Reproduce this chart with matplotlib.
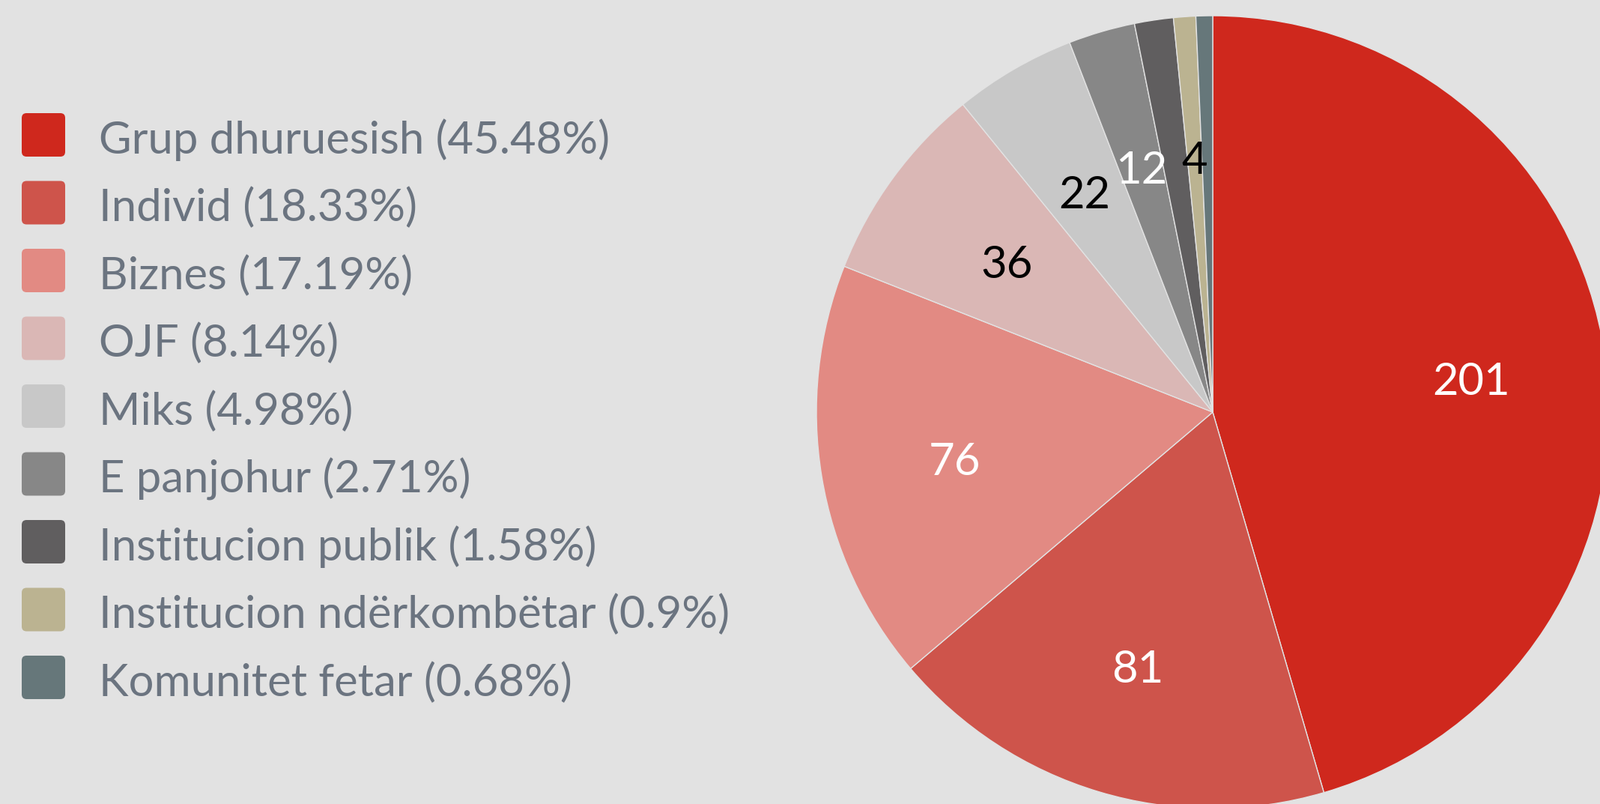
import matplotlib
matplotlib.use("Agg")
import matplotlib.pyplot as plt
from matplotlib.patches import FancyBboxPatch
import numpy as np

categories = ["Grup dhuruesish", "Individ", "Biznes", "OJF", "Miks", "E panjohur",
              "Institucion publik", "Institucion ndërkombëtar", "Komunitet fetar"]
values = [201, 81, 76, 36, 22, 12, 7, 4, 3]
percent_labels = ["45.48%", "18.33%", "17.19%", "8.14%", "4.98%", "2.71%", "1.58%", "0.9%", "0.68%"]
colors = ["#CF281D", "#CE544B", "#E28A83", "#DAB7B5", "#C8C8C8", "#878787",
          "#605E5F", "#BBB391", "#66777A"]
label_colors = ["white", "white", "white", "black", "black", "white", "white", "black", "black"]
shown = [True, True, True, True, True, True, False, True, False]

BG = "#E2E2E2"
W, H = 2136, 1073
fig = plt.figure(figsize=(W / 100, H / 100), dpi=100, facecolor=BG)

# pie axes
cx, cy, r = 1619, 550, 529
ax = fig.add_axes([(cx - r) / W, (H - cy - r) / H, 2 * r / W, 2 * r / H])
ax.set_facecolor(BG)
ax.axis("off")
wedges, _ = ax.pie(values, colors=colors, startangle=90, counterclock=False, radius=1,
                   wedgeprops=dict(edgecolor=BG, linewidth=1.0))
ax.set_xlim(-1, 1)
ax.set_ylim(-1, 1)
ax.set_aspect("equal")

total = sum(values)
cum = 0
for i, v in enumerate(values):
    mid = (cum + v / 2) / total * 360
    cum += v
    if not shown[i]:
        continue
    d = 0.66 if v > 50 else 0.645
    dy = -3.5 if v > 50 else -0.5
    theta = np.deg2rad(90 - mid)
    ax.annotate(str(v), xy=(d * np.cos(theta), d * np.sin(theta)), xytext=(0, dy),
                textcoords="offset points", ha="center", va="center_baseline",
                fontsize=43, color=label_colors[i], family="Lato")

# legend
for i, (cat, pct, col) in enumerate(zip(categories, percent_labels, colors)):
    yc = 180 + 90.5 * i
    sq = FancyBboxPatch(((29) / W, 1 - (yc + 29) / H), 58 / W, 58 / H,
                        boxstyle="round,pad=0,rounding_size=0.003",
                        transform=fig.transFigure, facecolor=col, edgecolor="none",
                        mutation_aspect=W / H)
    fig.patches.append(sq)
    fig.text(132 / W, 1 - (205 + 90.5 * i) / H, f"{cat} ({pct})", fontsize=43,
             color="#6B7480", family="Lato", va="baseline", ha="left")

fig.savefig("out.png", dpi=100, facecolor=BG)
